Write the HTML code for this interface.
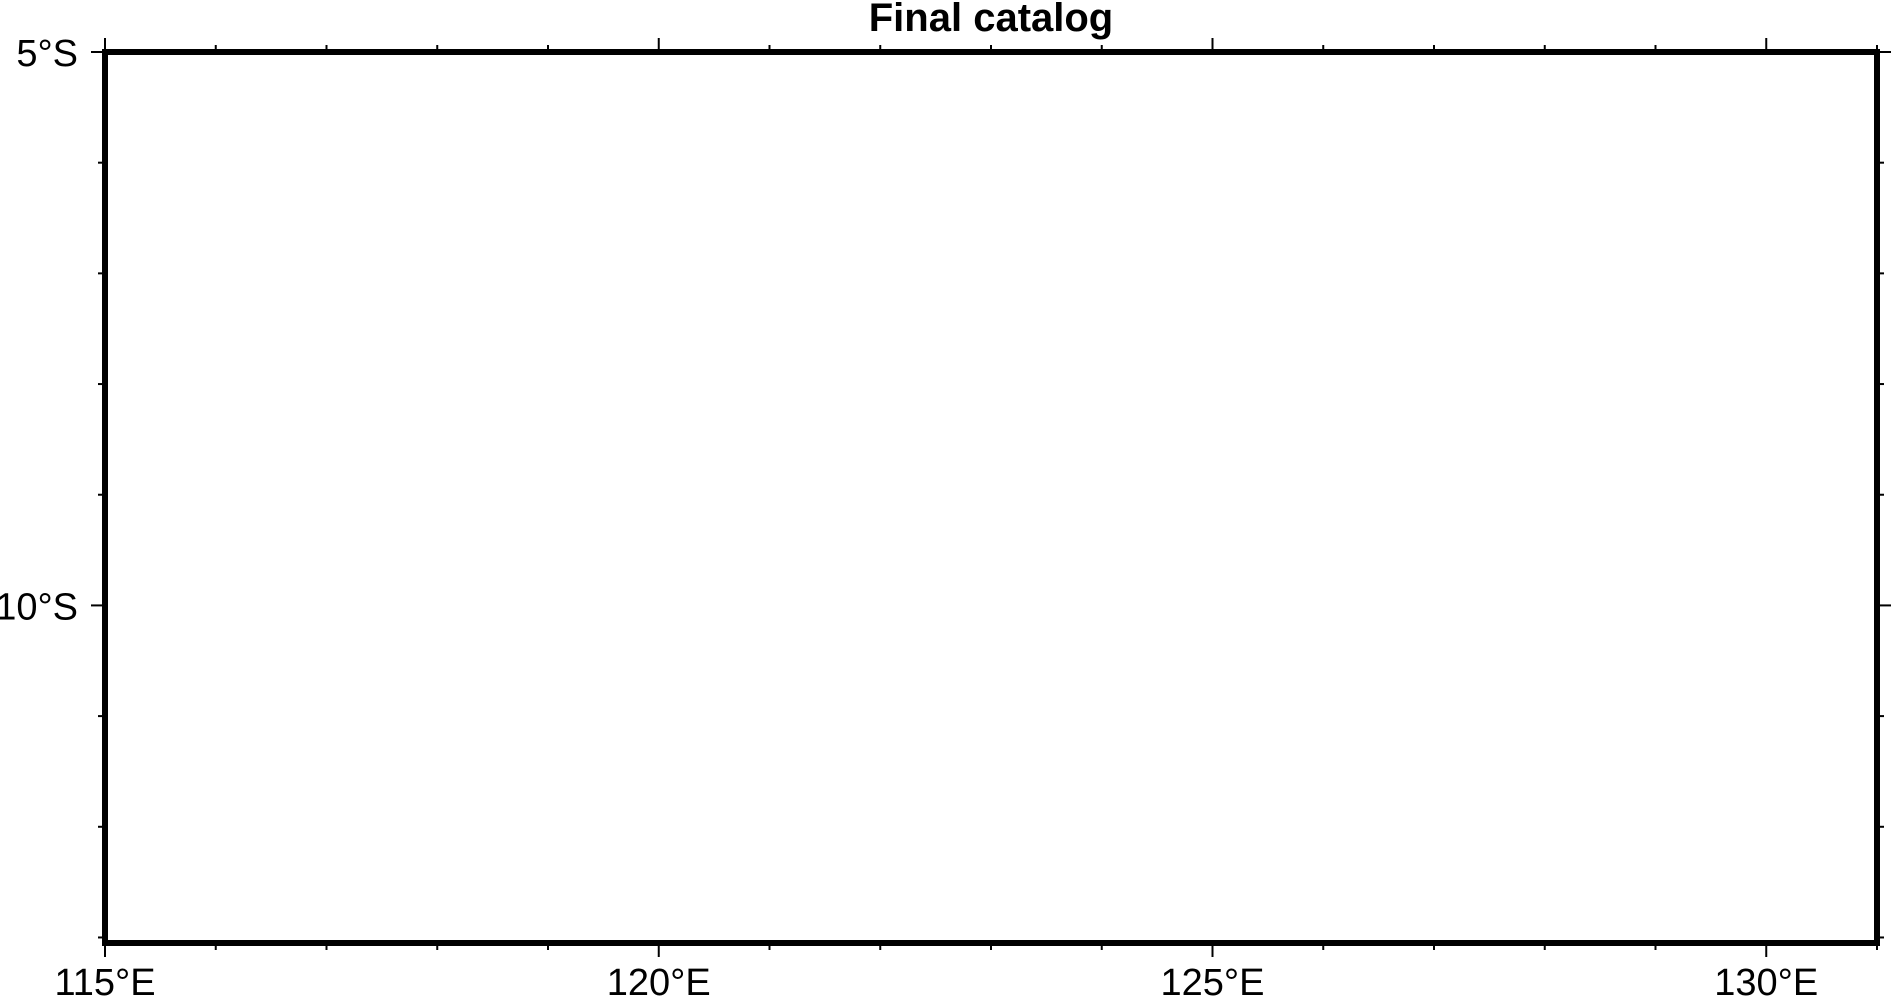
<!DOCTYPE html>
<html><head><meta charset="utf-8"><style>
html,body{margin:0;padding:0;background:#fff;}
svg{display:block;}
text{font-family:"Liberation Sans",Arial,sans-serif;fill:#000;}
</style></head><body>
<svg id="chart" width="1893" height="999" viewBox="0 0 1893 999" xmlns="http://www.w3.org/2000/svg">
<text x="991" y="31" text-anchor="middle" font-size="40" font-weight="bold">Final catalog</text>
<g id="ticks"></g>
<rect x="105" y="52" width="1772" height="891" fill="none" stroke="#000" stroke-width="6"/>
</svg>
<script>
const lonRange = [115, 131];
const latRange = [-5, -13.05];
const lonMajor = [115, 120, 125, 130];
const lonLabels = ["115°E", "120°E", "125°E", "130°E"];
const latMajor = [-5, -10];
const latLabels = ["5°S", "10°S"];
const X0 = 105, X1 = 1877, Y0 = 52, Y1 = 943;
function xs(lon){ return X0 + (lon - lonRange[0]) / (lonRange[1] - lonRange[0]) * (X1 - X0); }
function ys(lat){ return Y0 + (latRange[0] - lat) / (latRange[0] - latRange[1]) * (Y1 - Y0); }
const NS = "http://www.w3.org/2000/svg";
const g = document.getElementById("ticks");
function line(x1,y1,x2,y2,name){
  const l = document.createElementNS(NS,"line");
  l.setAttribute("x1",x1);l.setAttribute("y1",y1);l.setAttribute("x2",x2);l.setAttribute("y2",y2);
  l.setAttribute("stroke","#000");l.setAttribute("stroke-width","2");
  
  
  g.appendChild(l);
}
for(let lon=lonRange[0]; lon<=lonRange[1]; lon++){
  const major = lonMajor.includes(lon);
  const len = major ? 14 : 7;
  const x = xs(lon);
  line(x, Y0, x, Y0-len, "x-tick-top");
  line(x, Y1, x, Y1+len, "x-tick-bottom");
}
for(let lat=-5; lat>=-13; lat--){
  const major = latMajor.includes(lat);
  const len = major ? 14 : 7;
  const y = ys(lat);
  line(X0, y, X0-len, y, "y-tick-left");
  line(X1, y, X1+len, y, "y-tick-right");
}
lonMajor.forEach((lon,i)=>{
  const t = document.createElementNS(NS,"text");
  t.setAttribute("x", xs(lon)); t.setAttribute("y", 995);
  t.setAttribute("text-anchor","middle"); t.setAttribute("font-size","38");
  t.textContent = lonLabels[i];
  
  
  g.appendChild(t);
});
latMajor.forEach((lat,i)=>{
  const t = document.createElementNS(NS,"text");
  t.setAttribute("x", 78); t.setAttribute("y", ys(lat)+14);
  t.setAttribute("text-anchor","end"); t.setAttribute("font-size","38");
  t.textContent = latLabels[i];
  
  
  g.appendChild(t);
});
</script>
</body></html>
